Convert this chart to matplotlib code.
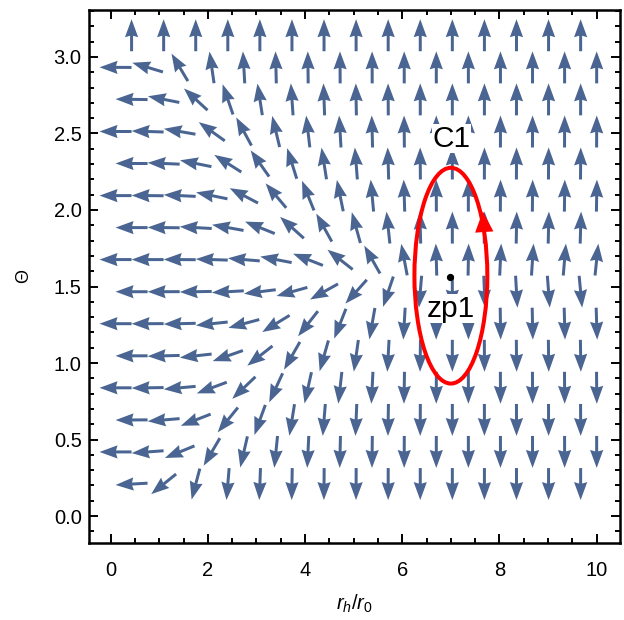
import matplotlib
matplotlib.use("Agg")
import matplotlib.pyplot as plt
import numpy as np
from matplotlib.patches import Ellipse
from matplotlib.ticker import MultipleLocator

plt.rcParams["font.family"] = ["Liberation Sans", "DejaVu Sans"]
plt.rcParams["mathtext.fontset"] = "custom"
plt.rcParams["mathtext.rm"] = "Liberation Sans"
plt.rcParams["mathtext.it"] = "Liberation Sans:italic"

# sample positions along r_h/r_0 (odd rows use odd indices, even rows even ones)
r_samples = [0.10, 0.43, 0.76, 1.09, 1.42, 1.75, 2.08, 2.41, 2.74, 3.07, 3.40,
             3.73, 4.06, 4.39, 4.72, 5.05, 5.38, 5.71, 6.04, 6.37, 6.70, 7.03,
             7.36, 7.69, 8.02, 8.35, 8.68, 9.01, 9.34, 9.67, 10.00]
# radial component of the field
phi_r = [-5000, -400, -75, -28, -13.5, -6.0, -3.25, -1.9, -1.27, -0.85, -0.56,
         -0.38, -0.27, -0.19, -0.135, -0.095, -0.06, -0.036, -0.02, -0.009,
         -0.003, 0.0003, 0.002, 0.004, 0.005, 0.006, 0.007, 0.008, 0.009,
         0.01, 0.011]
# rows in Theta and the angular component on each row
theta_rows = [0.209, 0.419, 0.628, 0.838, 1.047, 1.257, 1.466, 1.676, 1.885,
              2.094, 2.304, 2.513, 2.723, 2.932, 3.142]
phi_theta = [-22.6, -5.52, -2.34, -1.21, -0.667, -0.342, -0.106, 0.106, 0.342,
             0.667, 1.21, 2.34, 5.52, 22.6, 1.0e6]

zero_point = (6.98, 1.564)
contour_center = (7.0, 1.5708)
contour_axes = (0.75, 0.705)

arrow_color = "#4a6591"

X, Y, U, V = [], [], [], []
for j, (th, vt) in enumerate(zip(theta_rows, phi_theta)):
  start = 1 if j % 2 == 0 else 0
  for i in range(start, len(r_samples), 2):
    ur = phi_r[i]
    n = np.hypot(ur, vt)
    X.append(r_samples[i])
    Y.append(th)
    U.append(ur / n)
    V.append(vt / n)

fig = plt.figure(figsize=(6.24, 6.20), dpi=100)
ax = fig.add_axes([0.1431, 0.1247, 0.8505, 0.8592])

ax.quiver(X, Y, U, V, angles="uv", pivot="middle", scale_units="dots",
          scale=1 / 32.0, units="dots", width=3.0, headwidth=4.4,
          headlength=6.0, headaxislength=5.5, color=arrow_color, zorder=2)

a, b = contour_axes
ax.add_patch(Ellipse(contour_center, 2 * a, 2 * b, fill=False,
                     edgecolor="#ff0000", lw=2.9, zorder=3))
# direction arrow on the contour
t0 = 0.41
base = (contour_center[0] + a * np.cos(t0), contour_center[1] + b * np.sin(t0))
ax.annotate("", xy=(base[0] - 0.03, base[1] + 0.14), xytext=base,
            arrowprops=dict(arrowstyle="-|>,head_length=0.75,head_width=0.33",
                            mutation_scale=20, color="#ff0000", lw=0,
                            shrinkA=0, shrinkB=0), zorder=4)

ax.plot(*zero_point, "o", color="black", ms=4.2, zorder=5)
label_box = dict(facecolor="white", edgecolor="none", pad=0.5)
ax.text(7.01, 2.414, "C1", fontsize=21.5, ha="center", va="baseline",
        bbox=label_box, zorder=5)
ax.text(7.01, 1.303, "zp1", fontsize=21.5, ha="center", va="baseline",
        bbox=label_box, zorder=5)

ax.set_xlim(-0.44, 10.48)
ax.set_ylim(-0.174, 3.307)
ax.xaxis.set_major_locator(MultipleLocator(2))
ax.xaxis.set_minor_locator(MultipleLocator(0.5))
ax.yaxis.set_major_locator(MultipleLocator(0.5))
ax.yaxis.set_minor_locator(MultipleLocator(0.1))
ax.yaxis.set_major_formatter(matplotlib.ticker.FormatStrFormatter("%.1f"))

for s in ax.spines.values():
  s.set_linewidth(1.8)
ax.tick_params(which="both", direction="in", top=True, right=True, width=1.4)
ax.tick_params(which="major", length=6.5)
ax.tick_params(which="minor", length=3.6)
ax.tick_params(axis="x", which="major", labelsize=14.5, pad=13.5)
ax.tick_params(axis="y", which="major", labelsize=14.5, pad=5.5)

fig.text(354.7 / 624, 0.016, r"$r_h/r_0$", fontsize=14.5, ha="center",
         va="baseline")
fig.text(24 / 624, 1 - 276 / 620, "\u0398", fontsize=13, rotation=90,
         ha="center", va="center")

fig.savefig("out.png", dpi=100)
